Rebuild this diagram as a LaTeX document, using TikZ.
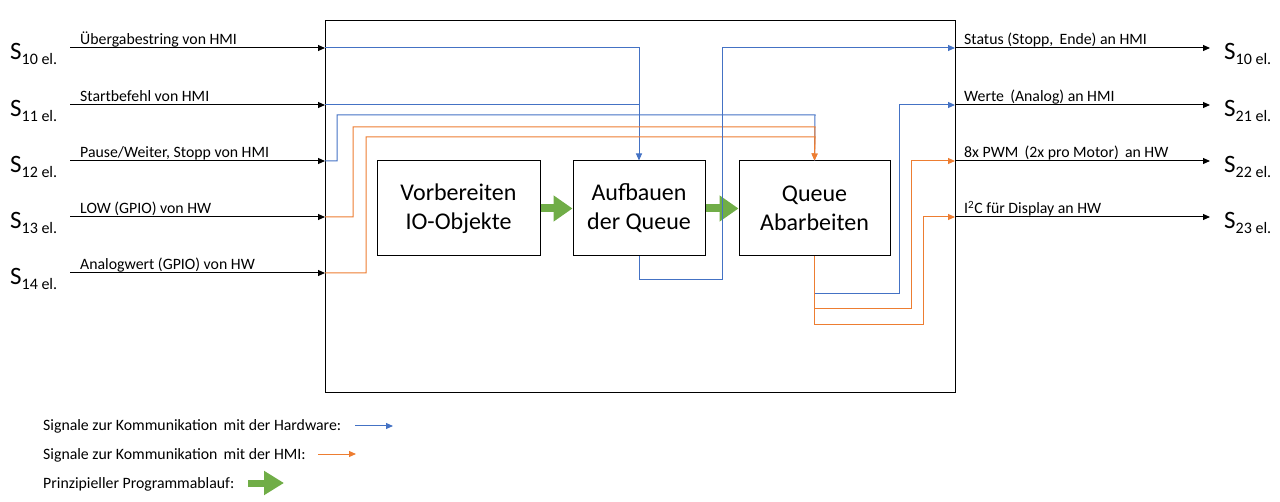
\documentclass[tikz,border=0pt]{standalone}
\usepackage{fontspec}
\setmainfont{Carlito}
\usetikzlibrary{arrows.meta}
\definecolor{hwblue}{HTML}{4472C4}
\definecolor{hmiorange}{HTML}{ED7D31}
\definecolor{flowgreen}{HTML}{70AD47}
\newcommand\SigName[1]{{\fontsize{25}{25}\selectfont S}\raisebox{-5pt}{\fontsize{16}{17}\selectfont #1 el.}}
\begin{document}
\begin{tikzpicture}[x=1pt,y=-1pt,
  sig/.style={line width=1pt,-{Triangle[length=7pt,width=6pt]}},
  blk/.style={sig,draw=black},
  blarr/.style={sig,draw=hwblue},
  blline/.style={line width=1pt,draw=hwblue},
  orarr/.style={sig,draw=hmiorange},
  flow/.style={line width=8pt,draw=flowgreen,-{Triangle[length=19pt,width=25pt]}},
  box/.style={draw,line width=1pt,minimum height=95pt,align=center,inner sep=0pt,font=\fontsize{24}{29}\selectfont},
  lbl/.style={anchor=base west,inner sep=0pt,font=\fontsize{15.8}{18}\selectfont},
  sname/.style={anchor=base west,inner sep=0pt}
]
\useasboundingbox (0,0) rectangle (1280,502);
% main frame
\node[draw,line width=1pt,minimum width=630pt,minimum height=372pt,anchor=north west,inner sep=0pt] (main) at (325,20) {};
% process boxes
\node[box,minimum width=163pt] (vor) at (458.5,208.5) {Vorbereiten\\IO-Objekte};
\node[box,minimum width=132pt] (aufb) at (639,208.5) {Aufbauen\\der Queue};
\node[box,minimum width=151pt] (queue) at (814.5,208.5) {Queue\\Abarbeiten};
% flow arrows
\draw[flow] (vor.east) -- (aufb.west);
\draw[flow] (aufb.east) -- (queue.west);
% input coordinates
\foreach \n/\y in {1/48,2/105,3/161,4/217,5/273}{
  \coordinate (s\n) at (70,\y);
  \coordinate (i\n) at (325,\y);
}
% output coordinates
\foreach \n/\y in {1/48,2/105,3/161,4/217}{
  \coordinate (o\n) at (955,\y);
  \coordinate (e\n) at (1210,\y);
}
% black input/output arrows
\foreach \n in {1,...,5}{\draw[blk] (s\n) -- (i\n);}
\foreach \n in {1,...,4}{\draw[blk] (o\n) -- (e\n);}
% input labels
\node[lbl] (l1) at (80,44.5) {Übergabestring von HMI};
\node[lbl] (l2) at (80,101.5) {Startbefehl von HMI};
\node[lbl] (l3) at (80,157.5) {Pause/Weiter, Stopp von HMI};
\node[lbl] (l4) at (80,213.5) {LOW (GPIO) von HW};
\node[lbl] (l5) at (80,269.5) {Analogwert (GPIO) von HW};
% output labels
\node[lbl] (r1) at (964,44.5) {Status (Stopp,\, Ende) an HMI};
\node[lbl] (r2) at (964,101.5) {Werte \,(Analog) an HMI};
\node[lbl] (r3) at (964,157.5) {8x PWM \,(2x pro Motor) \,an HW};
\node[lbl] (r4) at (964,213.5) {I\textsuperscript{2}C für Display an HW};
% S names
\node[sname] (n1) at (10,60) {\SigName{10}};
\node[sname] (n2) at (10,117) {\SigName{11}};
\node[sname] (n3) at (10,173) {\SigName{12}};
\node[sname] (n4) at (10,229) {\SigName{13}};
\node[sname] (n5) at (10,285) {\SigName{14}};
\node[sname] (m1) at (1224,60) {\SigName{10}};
\node[sname] (m2) at (1224,117) {\SigName{21}};
\node[sname] (m3) at (1224,173) {\SigName{22}};
\node[sname] (m4) at (1224,229) {\SigName{23}};
% internal signals, inputs
\draw[blarr] (i1) -| (aufb.north);
\draw[blline] (i2) -- (aufb.north |- i2);
\draw[blline] (i3) -- ++(12,0) |- (815,115) -- (queue.north);
\draw[orarr] (i4) -- ++(28,0) |- (815,127) -- (queue.north);
\draw[orarr] (i5) -- ++(41,0) |- (815,137) -- (queue.north);
% internal signals, outputs
\draw[blarr] (aufb.south) |- (722,280) |- (o1);
\draw[blarr] (queue.south) |- (899,294) |- (o2);
\draw[orarr] (queue.south) |- (911,309) |- (o3);
\draw[orarr] (queue.south) |- (923,325) |- (o4);
% legend
\node[lbl] (g1) at (43,431) {Signale zur Kommunikation \,mit der Hardware:};
\node[lbl] (g2) at (43,459) {Signale zur Kommunikation \,mit der HMI:};
\node[lbl] (g3) at (43,488) {Prinzipieller Programmablauf:};
\coordinate (ga1) at (355,426); \coordinate (gb1) at (393,426);
\coordinate (ga2) at (318,454); \coordinate (gb2) at (356,454);
\coordinate (ga3) at (248,483); \coordinate (gb3) at (284,483);
\draw[blarr] (ga1) -- (gb1);
\draw[orarr] (ga2) -- (gb2);
\draw[line width=7pt,draw=flowgreen,-{Triangle[length=20pt,width=23pt]}] (ga3) -- (gb3);
\end{tikzpicture}
\end{document}
